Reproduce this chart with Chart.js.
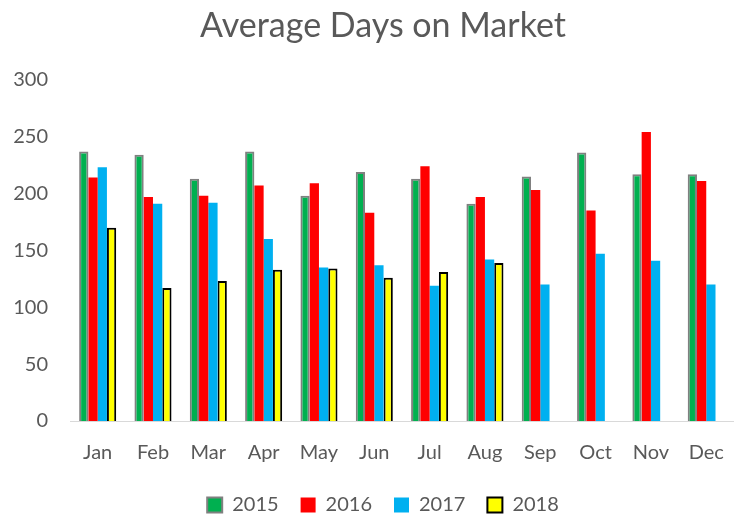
<!DOCTYPE html>
<html>
<head>
<meta charset="utf-8">
<script src="https://cdn.jsdelivr.net/npm/chart.js@4.4.1/dist/chart.umd.min.js"></script>
<style>
  html, body { margin: 0; padding: 0; background: #fff; overflow: hidden; }
  #wrap { width: 744px; height: 525px; }
</style>
</head>
<body>
<div id="wrap"><canvas id="daysChart"></canvas></div>
<script>
// Chart data
const months = ["Jan", "Feb", "Mar", "Apr", "May", "Jun", "Jul", "Aug", "Sep", "Oct", "Nov", "Dec"];
const days2015 = [237, 234, 213, 237, 198, 219, 213, 191, 215, 236, 217, 217];
const days2016 = [214, 197, 198, 207, 209, 183, 224, 197, 203, 185, 254, 211];
const days2017 = [223, 191, 192, 160, 135, 137, 119, 142, 120, 147, 141, 120];
const days2018 = [170, 117, 123, 133, 134, 126, 131, 139, null, null, null, null];
const yTicks = [0, 50, 100, 150, 200, 250, 300];

// title and legend sit a bit right of the canvas centre in the original
const shiftBoxes = {
  id: "shiftBoxes",
  afterLayout(chart) {
    const dx = 13;
    [chart.titleBlock, chart.legend].forEach((box) => {
      if (box) {
        box.left += dx;
        box.right += dx;
      }
    });
  },
};

document.addEventListener("DOMContentLoaded", () => {
  const textColor = "#595959";
  const font = "Lato, 'Open Sans', sans-serif";

  const ctx = document.getElementById("daysChart").getContext("2d");
  new Chart(ctx, {
    type: "bar",
    data: {
      labels: months,
      datasets: [
        { label: "2015", data: days2015, backgroundColor: "#00b050", borderColor: "#808080", borderWidth: 2 },
        { label: "2016", data: days2016, backgroundColor: "#ff0000", borderWidth: 0 },
        { label: "2017", data: days2017, backgroundColor: "#00b0f0", borderWidth: 0 },
        { label: "2018", data: days2018, backgroundColor: "#ffff00", borderColor: "#000000", borderWidth: 2 },
      ],
    },
    options: {
      responsive: true,
      maintainAspectRatio: false,
      animation: false,
      datasets: {
        bar: { categoryPercentage: 0.67, barPercentage: 1.0 },
      },
      layout: { padding: { left: 0, right: 4, top: 6, bottom: 0 } },
      scales: {
        x: {
          grid: { display: false, drawTicks: false },
          border: { color: "#d9d9d9", width: 1 },
          ticks: { color: textColor, font: { family: font, size: 20 }, padding: 20 },
          afterFit: (axis) => {
            // squeeze the gap between the labels and the legend
            axis.height = axis.height - 12;
          },
        },
        y: {
          min: 0,
          max: 300,
          afterBuildTicks: (axis) => {
            axis.ticks = yTicks.map((v) => ({ value: v }));
          },
          afterFit: (axis) => {
            axis.width = 70;
          },
          grid: { display: false, drawTicks: false },
          border: { display: false },
          ticks: { color: textColor, font: { family: font, size: 20 }, padding: 22 },
        },
      },
      plugins: {
        title: {
          display: true,
          text: "Average Days on Market",
          color: textColor,
          font: { family: font, size: 34, weight: "normal" },
          padding: { top: 0, bottom: 33 },
        },
        legend: {
          position: "bottom",
          labels: {
            color: textColor,
            font: { family: font, size: 20 },
            boxWidth: 15,
            boxHeight: 15,
            padding: 22,
          },
        },
        tooltip: { enabled: false },
      },
    },
    plugins: [shiftBoxes],
  });
});
</script>
</body>
</html>
